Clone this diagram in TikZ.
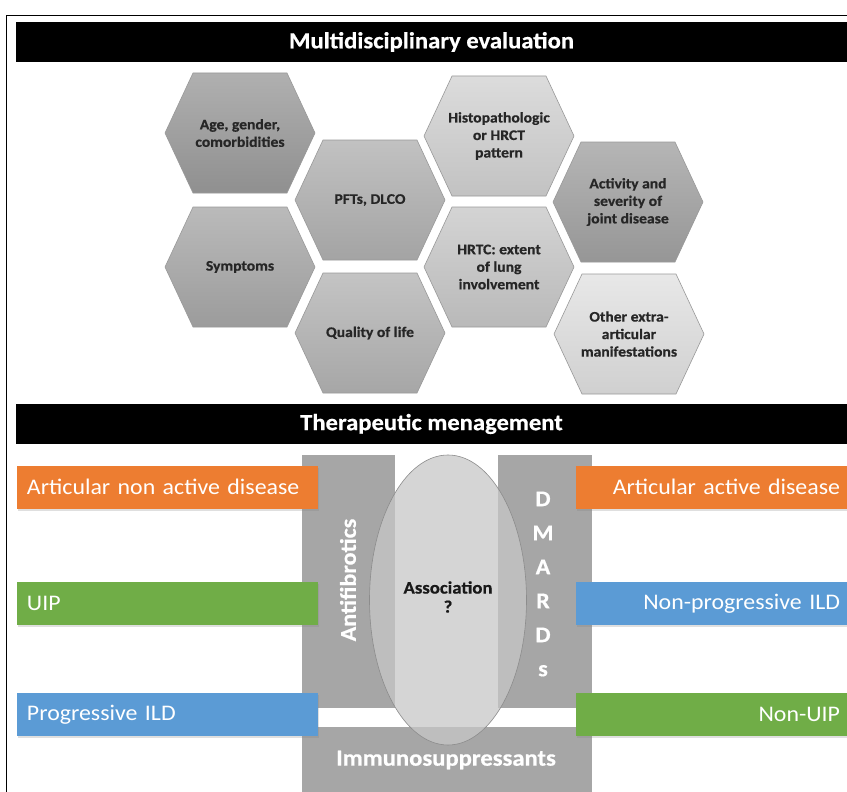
\documentclass[tikz,border=0pt]{standalone}
\usepackage{fontspec}
\setmainfont{Carlito}[FakeStretch=1.07, BoldFeatures={FakeBold=0.6}]
\usetikzlibrary{shapes.geometric,shadows}
\definecolor{orng}{HTML}{ED7D31}
\definecolor{grn}{HTML}{70AD47}
\definecolor{blu}{HTML}{5B9BD5}
\definecolor{gbox}{HTML}{A6A6A6}
\definecolor{hA}{HTML}{9C9C9C}
\definecolor{hB}{HTML}{A9A9A9}
\definecolor{hC}{HTML}{B2B2B2}
\definecolor{hD}{HTML}{B5B5B5}
\definecolor{hE}{HTML}{D3D3D3}
\definecolor{hF}{HTML}{C9C9C9}
\definecolor{hG}{HTML}{A3A3A3}
\definecolor{hH}{HTML}{E2E2E2}
\tikzset{
  hexline/.style={draw=black!40, line width=0.6pt},
  hextext/.style={font=\bfseries\fontsize{14.6}{17.5}\selectfont, align=center, text=black!85},
  blackbar/.style={fill=black, minimum width=831pt, minimum height=40pt, inner sep=0pt,
     text=white, font=\bfseries\fontsize{23}{26}\selectfont},
  shad/.style={drop shadow={opacity=0.25, shadow xshift=1pt, shadow yshift=-2pt}},
  leftbar/.style={shad, minimum height=43pt, text width=281pt, inner xsep=10pt, inner ysep=0pt, align=left,
     text=white, font=\fontsize{22.3}{25}\selectfont},
  rightbar/.style={shad, minimum height=43pt, text width=257pt, inner xsep=7pt, inner ysep=0pt, align=right,
     text=white, font=\fontsize{22.3}{25}\selectfont},
  graybox/.style={fill=gbox, inner sep=0pt},
  whitebold/.style={text=white, font=\bfseries\fontsize{22.5}{34}\selectfont, align=center},
}
\newcommand\hexa[5]{%
  \draw[hexline, top color=#4!80!white, bottom color=#4!92!black]
    (#2-75,#3) -- (#2-47,#3-60) -- (#2+47,#3-60) -- (#2+75,#3) -- (#2+47,#3+60) -- (#2-47,#3+60) -- cycle;
  \node[hextext] (#1) at (#2,#3) {#5};}
\begin{document}
\begin{tikzpicture}[x=1pt, y=-1pt]
\useasboundingbox[fill=white] (0,0) rectangle (847,792);
% frame
\coordinate (fbl) at (6,792);
\coordinate (ftl) at (6,15);
\coordinate (ftr) at (847,15);
\draw[line width=0.8pt] (fbl) -- (ftl) -- (ftr);
% top bar
\node[blackbar] (mde) at (431.5,42) {Multidisciplinary evaluation};
% hexagons
\hexa{age}{240}{133}{hA}{Age, gender,\\comorbidities}
\hexa{sym}{240}{267}{hB}{Symptoms}
\hexa{pft}{370}{200}{hC}{PFTs, DLCO}
\hexa{qol}{370}{333}{hD}{Quality of life}
\hexa{his}{499}{136}{hE}{Histopathologic\\or HRCT\\pattern}
\hexa{hrt}{499}{267}{hF}{HRTC: extent\\of lung\\involvement}
\hexa{act}{628}{202}{hG}{Activity and\\severity of\\joint disease}
\hexa{oth}{629}{334}{hH}{Other extra-\\articular\\manifestations}
% second bar
\node[blackbar] (tm) at (431.5,424) {Therapeutic menagement};
% gray boxes
\node[graybox, minimum width=93pt, minimum height=253pt] (anti) at (348.5,581.5) {};
\node[graybox, minimum width=94pt, minimum height=253pt] (dmard) at (545,581.5) {};
\node[graybox, minimum width=290pt, minimum height=65pt] (immu) at (447,759.5) {};
\node[whitebold, rotate=90] (antit) at (348,580) {Antifibrotics};
\node[whitebold] (dmt) at (543,584) {D\\M\\A\\R\\D\\s};
\node[whitebold, font=\bfseries\fontsize{23}{26}\selectfont] (immt) at (446,760) {Immunosuppressants};
% ellipse
\node[ellipse, draw=black!45, line width=0.6pt, fill={rgb,255:red,199;green,199;blue,199}, fill opacity=0.74,
      minimum width=157pt, minimum height=290pt] (assoc) at (448,600) {};
\node[font=\bfseries\fontsize{17.5}{19}\selectfont, align=center, text=black!90] (assoct) at (448,597) {Association\\?};
% colored bars
\node[leftbar, fill=orng] (ana) at (167.5,487) {Articular non active disease};
\node[leftbar, fill=grn] (uip) at (167.5,603.5) {UIP};
\node[leftbar, fill=blu] (pild) at (167.5,714.5) {Progressive ILD};
\node[rightbar, fill=orng] (aad) at (711.5,487) {Articular active disease};
\node[rightbar, fill=blu] (npild) at (711.5,603.5) {Non-progressive ILD};
\node[rightbar, fill=grn] (nuip) at (711.5,714.5) {Non-UIP};
\end{tikzpicture}
\end{document}
